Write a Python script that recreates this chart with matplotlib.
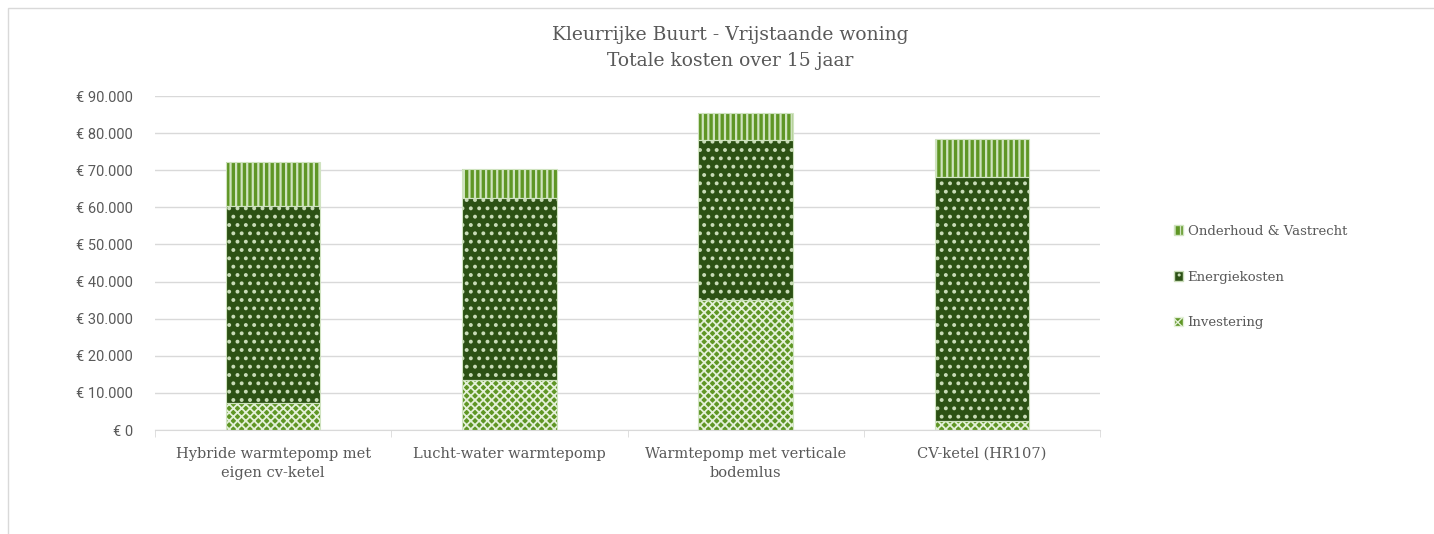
import matplotlib as mpl
import matplotlib.pyplot as plt
import matplotlib.ticker as mticker
from matplotlib.patches import Rectangle, Patch
import numpy as np

# data
categories = ['Hybride warmtepomp met\neigen cv-ketel', 'Lucht-water warmtepomp',
              'Warmtepomp met verticale\nbodemlus', 'CV-ketel (HR107)']
investering = [7300, 13500, 35000, 2400]
energiekosten = [53100, 49000, 43100, 65800]
onderhoud = [11800, 7800, 7300, 10200]

serif = 'DejaVu Serif'
grey = '#595959'

fig = plt.figure(figsize=(14.34, 5.34), dpi=100)
fig.patches.append(Rectangle((8 / 1434, -0.01), 1.0, 1 - 8 / 534 + 0.01, transform=fig.transFigure,
                             fill=False, edgecolor='#d9d9d9', linewidth=1))
ax = fig.add_axes([155 / 1434, 104 / 534, 945 / 1434, 334 / 534])

x = np.arange(len(categories))
w = 0.4

def stacked(vals, bottom, face, hatch, hcolor, hlw):
    ax.bar(x, vals, w, bottom=bottom, color=face, edgecolor='none', zorder=2)
    with mpl.rc_context({'hatch.linewidth': hlw}):
        bars = ax.bar(x, vals, w, bottom=bottom, facecolor='none', edgecolor=hcolor, hatch=hatch,
                      linewidth=0, zorder=3)
    for b in bars:
        if hasattr(b, 'set_hatch_linewidth'):
            b.set_hatch_linewidth(hlw)
    ax.bar(x, vals, w, bottom=bottom, facecolor='none', edgecolor='#cfe3bf', linewidth=0.8, zorder=4)

b1 = np.zeros(len(x))
stacked(investering, b1, '#5f9625', 'xxxx', '#e4f0d9', 1.3)
b2 = b1 + np.array(investering)
stacked(energiekosten, b2, '#2c5114', '..', '#c9dcb8', 1.6)
b3 = b2 + np.array(energiekosten)
stacked(onderhoud, b3, '#5f9625', '|||', '#cfe3bf', 1.6)

ax.set_xlim(-0.5, len(x) - 0.5)
ax.set_ylim(0, 90000)
ax.yaxis.set_major_locator(mticker.MultipleLocator(10000))
ax.yaxis.set_major_formatter(mticker.FuncFormatter(
    lambda v, p: '€ ' + f'{int(v):,}'.replace(',', '.') if v else '€ 0'))
ax.grid(axis='y', color='#d9d9d9', linewidth=1, zorder=0)
ax.set_axisbelow(True)
for s in ['top', 'right', 'left']:
    ax.spines[s].set_visible(False)
ax.spines['bottom'].set_color('#d9d9d9')
ax.tick_params(axis='y', length=0, labelsize=10.5, labelcolor=grey, pad=16)
for lbl in ax.get_yticklabels():
    lbl.set_family('Roboto')
ax.set_xticks(x)
ax.set_xticklabels(categories, family=serif, fontsize=10.5, color=grey, linespacing=1.45)
ax.tick_params(axis='x', length=0, pad=12)
ax.set_xticks(np.arange(-0.5, len(x)), minor=True)
ax.tick_params(axis='x', which='minor', length=5, color='#d9d9d9')

with mpl.rc_context({'hatch.linewidth': 1.0}):
    handles = [Patch(facecolor='#5f9625', edgecolor='#cfe3bf', hatch='|||', label='Onderhoud & Vastrecht'),
               Patch(facecolor='#2c5114', edgecolor='#c9dcb8', hatch='..', label='Energiekosten'),
               Patch(facecolor='#5f9625', edgecolor='#e4f0d9', hatch='xxx', label='Investering')]
fig.legend(handles=handles, loc='center left', bbox_to_anchor=(1162 / 1434, 1 - 277 / 534),
           frameon=False, handlelength=0.7, handleheight=0.7, handletextpad=0.35,
           labelspacing=2.5, prop={'family': serif, 'size': 9.5}, labelcolor=grey)

fig.text(730 / 1434, 1 - 35 / 534, 'Kleurrijke Buurt - Vrijstaande woning', ha='center', va='center',
         family=serif, fontsize=13.5, color=grey)
fig.text(730 / 1434, 1 - 61 / 534, 'Totale kosten over 15 jaar', ha='center', va='center',
         family=serif, fontsize=13.5, color=grey)

fig.savefig('out.png', dpi=100)
